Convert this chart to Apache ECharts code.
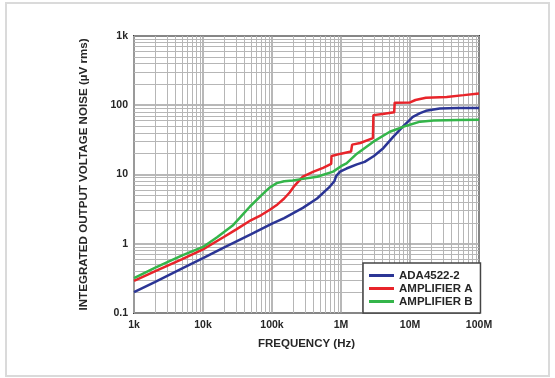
<!DOCTYPE html>
<html>
<head>
<meta charset="utf-8">
<script src="https://cdn.jsdelivr.net/npm/echarts@6.0.0/dist/echarts.min.js"></script>
<style>
  html, body { margin: 0; padding: 0; background: #fff; }
  #wrap { position: relative; width: 555px; height: 378px; }
  #frame { position: absolute; left: 5px; top: 2px; width: 545px; height: 375px;
           border: 2px solid #dadada; box-sizing: border-box; pointer-events: none; z-index: 2; }
  #chart { position: absolute; left: 0; top: 0; width: 555px; height: 378px; }
</style>
</head>
<body>
<div id="wrap">
  <div id="chart"></div>
  <div id="frame"></div>
</div>
<script>
// 频率 (Hz) 与积分噪声 (µV rms)
const adaFreq = [1e3, 2e3, 5e3, 1e4, 2e4, 5e4, 1e5, 1.5e5, 2.8e5, 4.5e5, 6.9e5, 8.0e5, 8.5e5, 9.7e5,
                 1.2e6, 1.7e6, 2.2e6, 3.0e6, 4.1e6, 5.7e6, 8e6, 1.1e7, 1.4e7, 1.7e7, 2.7e7, 5e7, 1e8]
const adaNoise = [0.2, 0.28, 0.44, 0.62, 0.88, 1.38, 1.95, 2.35, 3.3, 4.5, 6.7, 8.0, 9.5, 11,
                  12.2, 14, 15.2, 18.5, 24, 35, 50, 68, 77, 83, 90, 91, 91]

const ampAFreq = [1e3, 2e3, 5e3, 1e4, 2e4, 3e4, 5e4, 7e4, 9.3e4, 1.2e5, 1.5e5, 1.8e5, 2.1e5, 2.8e5,
                  4e5, 5.5e5, 7.2e5, 7.3e5, 1e6, 1.4e6, 1.45e6, 1.9e6, 2.9e6, 2.95e6, 4e6, 5.9e6, 6e6,
                  1e7, 1.2e7, 1.7e7, 3.4e7, 6e7, 1e8]
const ampANoise = [0.29, 0.4, 0.6, 0.83, 1.25, 1.6, 2.2, 2.6, 3.1, 3.7, 4.5, 5.5, 6.8, 9.3,
                   11, 12.5, 14.2, 18.5, 20, 21.5, 27, 28.5, 33.5, 72, 75, 79, 109,
                   110, 119, 128, 132, 140, 148]

const ampBFreq = [1e3, 2e3, 5e3, 1e4, 1.6e4, 2.75e4, 3.9e4, 4.8e4, 7e4, 9.3e4, 1.17e5, 1.5e5, 2e5,
                  2.5e5, 4.5e5, 7.7e5, 1e6, 1.2e6, 1.7e6, 2.95e6, 5.1e6, 8.9e6, 1.4e7, 2.2e7, 5e7, 1e8]
const ampBNoise = [0.32, 0.45, 0.68, 0.9, 1.24, 1.87, 2.75, 3.45, 5.0, 6.5, 7.5, 8.0, 8.2,
                   8.5, 9.3, 11, 13.2, 14.5, 20, 29.8, 41.5, 50.7, 58, 60, 61, 61.5]

const seriesNames = ['ADA4522-2', 'AMPLIFIER A', 'AMPLIFIER B']
const seriesColors = ['#2b3595', '#e8242a', '#34b54a']

// 刻度标签
const xTickLabels = ['1k', '10k', '100k', '1M', '10M', '100M'] // 10^3 .. 10^8
const yTickLabels = ['0.1', '1', '10', '100', '1k']             // 10^-1 .. 10^3

const pairs = (xs, ys) => xs.map((x, i) => [x, ys[i]])

// 次网格线 (2..9 每个十倍程)
const minorX = []
for (let d = 1e3; d < 1e8; d *= 10) for (let k = 2; k <= 9; k++) minorX.push(k * d)
const minorY = []
for (let d = 0.1; d < 999; d *= 10) for (let k = 2; k <= 9; k++) minorY.push(+(k * d).toPrecision(3))

const font = '"Liberation Sans", Arial, sans-serif'
const labelStyle = { color: '#262626', fontWeight: 'bold', fontSize: 10.5, fontFamily: font }

const chart = echarts.init(document.getElementById('chart'))

const option = {
    animation: false,
    grid: {
        left: 134, right: 76, top: 36, bottom: 65,
        show: true, borderColor: '#3a3a3a', borderWidth: 2, backgroundColor: '#fff'
    },
    legend: {
        orient: 'vertical',
        left: 363, top: 263,
        padding: [6, 8, 5, 6],
        itemGap: 0,
        itemWidth: 25, itemHeight: 3,
        icon: 'rect',
        z: 10,
        backgroundColor: '#fff',
        borderColor: '#444', borderWidth: 1.5,
        textStyle: { color: '#262626', fontWeight: 'bold', fontSize: 11.5, fontFamily: font, lineHeight: 13 },
        data: seriesNames
    },
    xAxis: {
        type: 'log', logBase: 10, min: 1e3, max: 1e8,
        name: 'FREQUENCY (Hz)', nameLocation: 'middle', nameGap: 25,
        nameTextStyle: { color: '#262626', fontWeight: 'bold', fontSize: 11.5, fontFamily: font },
        axisLine: { show: false }, axisTick: { show: false },
        axisLabel: Object.assign({ margin: 7, formatter: v => xTickLabels[Math.round(Math.log10(v)) - 3] }, labelStyle),
        splitLine: { show: true, lineStyle: { color: '#a0a0a0', width: 1.5 } }
    },
    yAxis: {
        type: 'log', logBase: 10, min: 0.1, max: 1000,
        name: 'INTEGRATED OUTPUT VOLTAGE NOISE (µV rms)', nameLocation: 'middle', nameGap: 44,
        nameTextStyle: { color: '#262626', fontWeight: 'bold', fontSize: 11.6, fontFamily: font },
        axisLine: { show: false }, axisTick: { show: false },
        axisLabel: Object.assign({ margin: 6, formatter: v => yTickLabels[Math.round(Math.log10(v)) + 1] }, labelStyle),
        splitLine: { show: true, lineStyle: { color: '#a0a0a0', width: 1.5 } }
    },
    series: [
        {
            // 次网格线
            type: 'line', z: 1, silent: true, symbol: 'none',
            data: [[1e3, 0.1]], lineStyle: { opacity: 0 },
            markLine: {
                silent: true, symbol: 'none', label: { show: false }, animation: false, z: 1,
                lineStyle: { color: '#b6b6b6', width: 1, type: 'solid' },
                data: minorX.map(v => ({ xAxis: v })).concat(minorY.map(v => ({ yAxis: v })))
            }
        },
        { name: seriesNames[0], data: pairs(adaFreq, adaNoise) },
        { name: seriesNames[1], data: pairs(ampAFreq, ampANoise) },
        { name: seriesNames[2], data: pairs(ampBFreq, ampBNoise) }
    ].map((s, i) => i === 0 ? s : Object.assign({
        type: 'line', z: 3, symbol: 'none', showSymbol: false,
        color: seriesColors[i - 1],
        lineStyle: { width: 2.5, color: seriesColors[i - 1] }
    }, s))
}

chart.setOption(option)
</script>
</body>
</html>
